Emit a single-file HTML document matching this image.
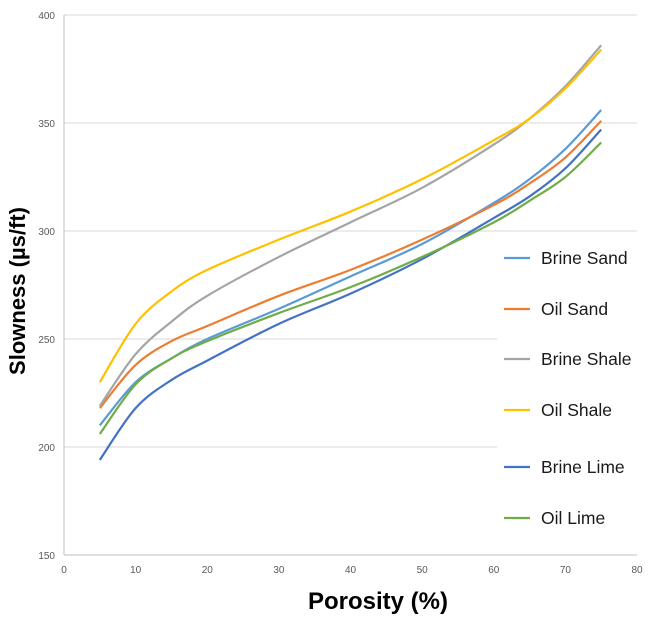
<!DOCTYPE html>
<html><head><meta charset="utf-8"><style>
body{margin:0;background:#fff;}
svg{display:block;font-family:"Liberation Sans",Arial,sans-serif;}
</style></head><body>
<svg id="chart" width="650" height="622">
<g id="grid"></g>
<g id="axes"></g>
<g id="series"></g>
<rect x="497" y="238" width="142" height="300" fill="#fff"/>
<g id="legend"></g>
<text x="0" y="0" transform="translate(25,291) rotate(-90)" text-anchor="middle" font-size="22" font-weight="bold" fill="#000">Slowness (µs/ft)</text>
<text x="378" y="609" text-anchor="middle" font-size="24" font-weight="bold" fill="#000">Porosity (%)</text>
</svg>
<script>
const xs=[5,10,15,20,30,40,50,60,65,70,75];
const brineSand=[210,230,241,250,264,279,294,313,324,338,356];
const oilSand=[218,238,249,256,270,282,296,312,322,334,351];
const brineShale=[219,243,258,270,288,304,320,340,352,367,386];
const oilShale=[230,257,272,282,296,309,324,342,352,366,384];
const brineLime=[194,218,231,240,257,271,287,306,316,329,347];
const oilLime=[206,229,241,249,262,274,288,304,314,325,341];
const seriesNames=["Brine Sand","Oil Sand","Brine Shale","Oil Shale","Brine Lime","Oil Lime"];
const seriesData=[brineSand,oilSand,brineShale,oilShale,brineLime,oilLime];
const colors=["#5B9BD5","#ED7D31","#A5A5A5","#FFC000","#4472C4","#70AD47"];
const xTicks=[0,10,20,30,40,50,60,70,80];
const yTicks=[150,200,250,300,350,400];
const NS="http://www.w3.org/2000/svg";
const X=v=>64+(v/80)*573, Y=v=>555-(v-150)/250*540;
function mk(t,a,p){const e=document.createElementNS(NS,t);for(const k in a)e.setAttribute(k,a[k]);p.appendChild(e);return e;}
const g=document.getElementById('grid'),ax=document.getElementById('axes'),s=document.getElementById('series'),lg=document.getElementById('legend');
yTicks.forEach(t=>{
 const l=mk('line',{x1:64,x2:637,y1:Y(t),y2:Y(t),stroke:t==150?'#bfbfbf':'#d9d9d9','stroke-width':1},g);
 
 
 const tx=mk('text',{x:55,y:Y(t)+4,'text-anchor':'end','font-size':10,fill:'#595959'},ax);tx.textContent=t;
 
 
});
const yl=mk('line',{x1:64,x2:64,y1:15,y2:555,stroke:'#bfbfbf'},ax);


xTicks.forEach(t=>{
 const tx=mk('text',{x:X(t),y:573,'text-anchor':'middle','font-size':10,fill:'#595959'},ax);tx.textContent=t;
 
 
});
function pathFor(d){
 const p=xs.map((x,i)=>[X(x),Y(d[i])]);let str='M'+p[0][0]+','+p[0][1];
 for(let i=0;i<p.length-1;i++){
  const p0=p[i-1]||p[i],p1=p[i],p2=p[i+1],p3=p[i+2]||p[i+1];
  const c1=[p1[0]+(p2[0]-p0[0])/6,p1[1]+(p2[1]-p0[1])/6],c2=[p2[0]-(p3[0]-p1[0])/6,p2[1]-(p3[1]-p1[1])/6];
  str+=`C${c1[0]},${c1[1]} ${c2[0]},${c2[1]} ${p2[0]},${p2[1]}`;
 }
 return str;
}
const legY=[258,309,359,410,467,518];
seriesData.forEach((d,i)=>{
 const p=mk('path',{d:pathFor(d),fill:'none',stroke:colors[i],'stroke-width':2.2},s);
 
 
 const ll=mk('line',{x1:504,x2:530,y1:legY[i],y2:legY[i],stroke:colors[i],'stroke-width':2.2},lg);
 
 
 const lt=mk('text',{x:541,y:legY[i]+6,'font-size':17.5,fill:'#1a1a1a'},lg);lt.textContent=seriesNames[i];
 
 
});
</script>
</body></html>
